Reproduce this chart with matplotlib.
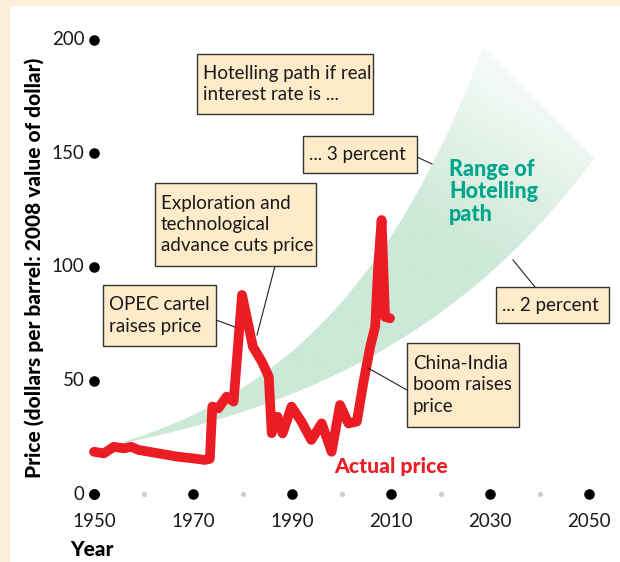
import numpy as np
import matplotlib
matplotlib.use("Agg")
import matplotlib.pyplot as plt
from matplotlib.patches import Rectangle, Polygon
from matplotlib.lines import Line2D

# Real price of oil, dollars per barrel in 2008 dollars
price_years = [1950, 1952, 1954, 1956, 1957.5, 1959, 1963, 1967, 1970, 1972.4,
               1973.4, 1973.9, 1975.1, 1976.8, 1978.2, 1979.9, 1982.1, 1983.9,
               1985.3, 1985.9, 1987.1, 1988.1, 1989.9, 1991.9, 1993.9, 1996.0,
               1998.0, 1999.7, 2001.4, 2003.1, 2004.4, 2005.8, 2006.8, 2007.4,
               2008.1, 2008.8, 2009.8]
price_values = [18.6, 17.9, 20.8, 20.1, 20.8, 19.4, 17.9, 16.4, 15.7, 15.0,
                15.5, 38.5, 37.7, 42.9, 40.7, 87.7, 64.9, 58.3,
                51.7, 26.8, 34.0, 26.7, 38.5, 31.9, 23.8, 31.1,
                18.6, 39.2, 31.1, 31.9, 48.8, 64.9, 73.7, 100.0,
                120.7, 78.0, 77.4]

# Hotelling paths: price grows at the real interest rate
hotelling_rates = [0.02, 0.03]
hotelling_start_year = 1953.7
hotelling_start_price = 21.5

x_major = [1950, 1970, 1990, 2010, 2030, 2050]
x_minor = [1960, 1980, 2000, 2020, 2040]
y_major = [0, 50, 100, 150, 200]

W, H = 620, 562
CREAM = "#FDF0D8"
BOX = "#FDEBC9"
RED = "#EC1C24"
TEAL = "#00A58C"
GREEN = np.array([0.80, 0.91, 0.84])
FONT = "Lato"

plt.rcParams["font.family"] = [FONT, "DejaVu Sans"]

# pixel scale of the plotting area
X0_PX, PX_PER_YEAR = 94.0, 4.95
Y0_PX, PX_PER_USD = 494.0, 2.27
XLIM = (1945, 2060)
YLIM = (-5, 210)


def fx(px):
    return px / W


def fy(py):
    return 1 - py / H


fig = plt.figure(figsize=(W / 100, H / 100), dpi=100, facecolor=CREAM)
fig.add_artist(Rectangle((fx(10), 0), 1 - fx(10), fy(6), transform=fig.transFigure,
                         facecolor="white", edgecolor="none", zorder=0))

left_px = X0_PX + (XLIM[0] - 1950) * PX_PER_YEAR
right_px = X0_PX + (XLIM[1] - 1950) * PX_PER_YEAR
bottom_px = Y0_PX - YLIM[0] * PX_PER_USD
top_px = Y0_PX - YLIM[1] * PX_PER_USD
ax = fig.add_axes([fx(left_px), fy(bottom_px), (right_px - left_px) / W,
                   (bottom_px - top_px) / H])
ax.set_xlim(*XLIM)
ax.set_ylim(*YLIM)
ax.set_axis_off()

# --- Range of Hotelling path band -------------------------------------
r_lo, r_hi = hotelling_rates
yrs = np.linspace(hotelling_start_year, 2060, 3000)
low = hotelling_start_price * (1 + r_lo) ** (yrs - hotelling_start_year)
high = hotelling_start_price * (1 + r_hi) ** (yrs - hotelling_start_year)
# band is cut off along a diagonal at its upper right end
cut = 197 - (50 / 22.9) * (yrs - 2028.6)
keep = low <= cut
yrs, low, high, cut = yrs[keep], low[keep], high[keep], cut[keep]
top = np.minimum(high, cut)
verts = np.vstack([np.column_stack([yrs, low]),
                   np.column_stack([yrs[::-1], top[::-1]])])
band = Polygon(verts, closed=True, facecolor="none", edgecolor="none")
ax.add_patch(band)

gx = np.linspace(XLIM[0], XLIM[1], 500)
gy = np.linspace(YLIM[0], YLIM[1], 500)
GX, GY = np.meshgrid(gx, gy)
PX = X0_PX + (GX - 1950) * PX_PER_YEAR
PY = (GY) * PX_PER_USD + (H - Y0_PX)
ax_, ay_ = 300.0, 142.0
dx, dy = 220.0, 380.0
t = ((PX - ax_) * dx + (PY - ay_) * dy) / (dx * dx + dy * dy)
fade = np.clip((t - 0.5) / 0.5, 0, 1) ** 1.2
rgba = np.zeros(GX.shape + (4,))
rgba[..., :3] = GREEN
rgba[..., 3] = 1 - fade
im = ax.imshow(rgba, extent=[XLIM[0], XLIM[1], YLIM[0], YLIM[1]], origin="lower",
               aspect="auto", zorder=1, interpolation="bilinear")
im.set_clip_path(band)

# --- Actual price -------------------------------------------------------
ax.plot(price_years, price_values, color=RED, lw=7.0, solid_joinstyle="round",
        solid_capstyle="round", zorder=3)

# --- Axis dots and tick labels -----------------------------------------
ax.scatter(x_minor, [0] * len(x_minor), s=14, color="#D3CCD2", zorder=5,
           clip_on=False, linewidths=0)
ax.scatter(x_major, [0] * len(x_major), s=58, color="black", zorder=5,
           clip_on=False, linewidths=0)
ax.scatter([1950] * len(y_major), y_major, s=58, color="black", zorder=5,
           clip_on=False, linewidths=0)
for v in y_major:
    ax.annotate(str(v), (1950, v), xytext=(-7, 0), textcoords="offset points",
                ha="right", va="center", fontsize=13.5, color="#1a1a1a")
for v in x_major:
    ax.annotate(str(v), (v, 0), xytext=(0, -13.5), textcoords="offset points",
                ha="center", va="top", fontsize=13.5, color="#1a1a1a")

fig.text(fx(70), fy(550), "Year", ha="left", va="center", fontsize=15,
         fontweight="black")
fig.text(fx(34), fy(268), "Price (dollars per barrel: 2008 value of dollar)",
         rotation=90, ha="center", va="center", fontsize=15, fontweight="black")

ax.text(2010.0, 11.9, "Actual price", ha="center", va="center", fontsize=15.2,
        fontweight="black", color=RED, zorder=6)
fig.text(fx(449), fy(192), "Range of\nHotelling\npath", ha="left", va="center",
         fontsize=15.5, fontweight="black", color=TEAL, linespacing=1.08, zorder=6)

# --- Callout boxes ------------------------------------------------------
boxes = [
    ((197, 54, 373, 114), "Hotelling path if real\ninterest rate is ..."),
    ((303, 136, 417, 173), "... 3 percent"),
    ((155, 183, 316, 266), "Exploration and\ntechnological\nadvance cuts price"),
    ((103, 285, 216, 346), "OPEC cartel\nraises price"),
    ((496, 287, 609, 323), "... 2 percent"),
    ((407, 343, 519, 427), "China-India\nboom raises\nprice"),
]
for (x0, y0, x1, y1), label in boxes:
    fig.add_artist(Rectangle((fx(x0), fy(y1)), (x1 - x0) / W, (y1 - y0) / H,
                             transform=fig.transFigure, facecolor=BOX,
                             edgecolor="#333333", lw=1.0, zorder=6))
    fig.text(fx(x0 + 6), fy((y0 + y1) / 2), label, ha="left", va="center",
             fontsize=13.5, color="#1a1a1a", linespacing=1.3, zorder=7)

leaders = [
    ((417, 157), (432, 164)),
    ((275, 266), (257, 335)),
    ((216, 320), (235, 327)),
    ((513, 260), (535, 287)),
    ((407, 390), (368, 368)),
]
for (xa, ya), (xb, yb) in leaders:
    fig.add_artist(Line2D([fx(xa), fx(xb)], [fy(ya), fy(yb)],
                          transform=fig.transFigure, color="#222222", lw=0.8,
                          zorder=5))

fig.savefig("out.png", dpi=100, facecolor=CREAM)
